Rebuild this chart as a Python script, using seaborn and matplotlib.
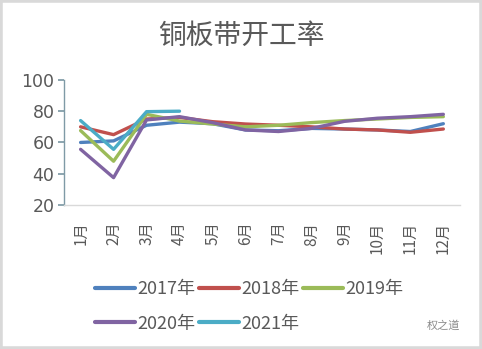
import matplotlib
matplotlib.use("Agg")
import matplotlib.pyplot as plt
import seaborn as sns
import pandas as pd
from matplotlib.patches import Rectangle

months = ["1月", "2月", "3月", "4月", "5月", "6月", "7月", "8月", "9月", "10月", "11月", "12月"]
y2017 = [60, 61, 71, 73, 72, 68, 67.5, 69, 68.6, 68, 67, 72]
y2018 = [70, 65, 75, 76, 73.3, 71.8, 71, 70, 68.6, 68, 66.5, 68.6]
y2019 = [67.6, 48, 78, 73.7, 71.8, 70, 71, 72.7, 74, 75, 76, 76.5]
y2020 = [55.6, 37.5, 74.4, 76.5, 72.7, 68, 67, 69, 73.5, 75.5, 76.5, 78]
y2021 = [74, 55.6, 79.7, 80]
series_names = ["2017年", "2018年", "2019年", "2020年", "2021年"]
colors = ["#4F81BD", "#C0504D", "#9BBB59", "#8064A2", "#4BACC6"]
title = "铜板带开工率"
yticks = [20, 40, 60, 80, 100]

sns.set_theme(style="white")
plt.rcParams['font.family'] = ['Noto Sans CJK SC', 'DejaVu Sans']

rows = []
for name, vals in zip(series_names, [y2017, y2018, y2019, y2020, y2021]):
    for i, v in enumerate(vals):
        rows.append({"month": i + 1, "value": v, "year": name})
df = pd.DataFrame(rows)

fig = plt.figure(figsize=(4.82, 3.49), dpi=100)
ax = fig.add_axes([0.133, 0.4126, 0.821, 0.3584])
sns.lineplot(data=df, x="month", y="value", hue="year", palette=colors,
             hue_order=series_names, linewidth=2.4, ax=ax, legend=False)

ax.set_xlim(0.5, 12.5)
ax.set_ylim(20, 100)
ax.set_yticks(yticks)
ax.set_yticklabels([str(t) for t in yticks], fontsize=12.5, color="#595959",
                   family=['DejaVu Sans'])
ax.set_xticks(range(1, 13))
ax.set_xticklabels(months, rotation=90, fontsize=11, color="#595959")
ax.set_xlabel("")
ax.set_ylabel("")
for s in ["top", "right"]:
    ax.spines[s].set_visible(False)
ax.spines["left"].set_color("#7f9aa6")
ax.spines["bottom"].set_color("#d9d9d9")
ax.spines["left"].set_linewidth(1.0)
ax.spines["bottom"].set_linewidth(1.0)
ax.tick_params(axis="y", which="both", left=True, length=4, color="#7f9aa6", pad=3)
ax.tick_params(axis="x", bottom=False, pad=6)

fig.text(0.5, 1 - 36 / 349, title, ha="center", va="center", fontsize=20,
         color="#595959")

handles = [plt.Line2D([], [], color=c, linewidth=3) for c in colors]
order = [0, 3, 1, 4, 2]
fig.legend([handles[i] for i in order], [series_names[i] for i in order],
           ncol=3, loc="upper left",
           bbox_to_anchor=(0.163, 1 - 264 / 349), frameon=False,
           fontsize=13, handlelength=2.2, handletextpad=0.15,
           columnspacing=0.2, labelspacing=0.9, labelcolor="#595959")

fig.text(0.955, 1 - 326 / 349, "权之道", ha="right", va="center", fontsize=8,
         color="#8c8c8c")

fig.patches.append(Rectangle((0, 0), 1, 1, transform=fig.transFigure,
                             fill=False, edgecolor="#d9d9d9", linewidth=4))

fig.savefig("out.png", dpi=100)
